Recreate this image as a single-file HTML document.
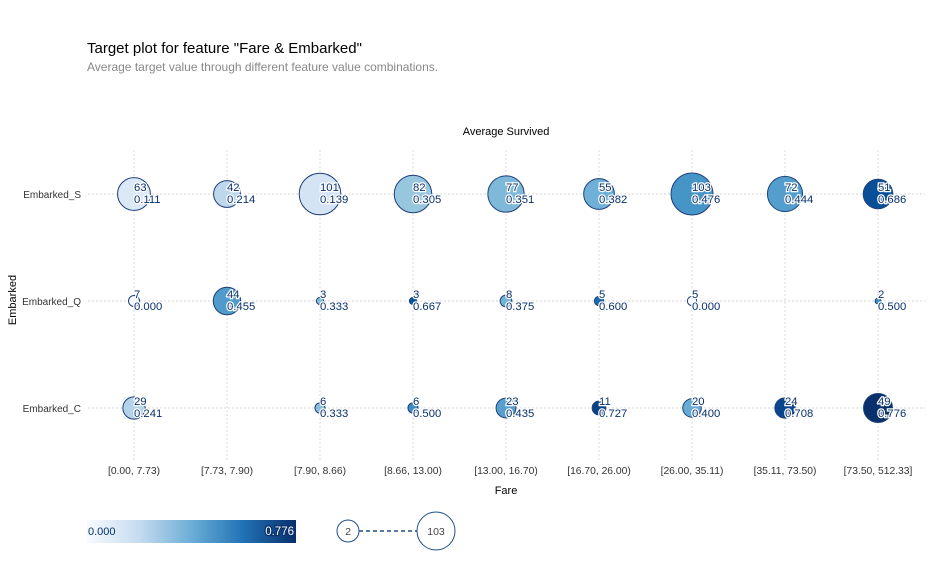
<!DOCTYPE html>
<html><head><meta charset="utf-8"><style>
body{margin:0;background:#fff;font-family:"Liberation Sans",Arial,sans-serif}
svg text{font-family:"Liberation Sans",Arial,sans-serif}
</style></head><body>
<svg id="c" width="939" height="565" xmlns="http://www.w3.org/2000/svg">
<defs><linearGradient id="g" x1="0" x2="1" y1="0" y2="0">
<stop offset="0" stop-color="#f7fbff"/><stop offset="0.25" stop-color="#c6dbef"/><stop offset="0.5" stop-color="#6baed6"/><stop offset="0.75" stop-color="#2171b5"/><stop offset="1" stop-color="#08306b"/></linearGradient></defs>
<text x="87" y="53" font-size="15" fill="#000">Target plot for feature "Fare &amp; Embarked"</text>
<text x="87" y="71" font-size="12" fill="#888">Average target value through different feature value combinations.</text>
<text x="506" y="135" font-size="11" text-anchor="middle" fill="#000">Average Survived</text>
<g id="grid"></g><g id="marks"></g><g id="axes"></g>
<text x="506" y="494" font-size="11" text-anchor="middle">Fare</text>
<text transform="translate(16,300) rotate(-90)" font-size="11" text-anchor="middle">Embarked</text>
<rect x="87" y="520" width="209" height="23" fill="url(#g)"/>
<text x="88" y="535" font-size="11" fill="#08306b">0.000</text>
<text x="294" y="535" font-size="11.5" text-anchor="end" fill="#fff" stroke="#08306b" stroke-width="2.5" paint-order="stroke">0.776</text>
<line x1="359" y1="531" x2="417" y2="531" stroke="#1f4e8c" stroke-width="1.5" stroke-dasharray="4,3"/>
<circle cx="348" cy="531" r="11" fill="#fff" stroke="#1f4e8c"/>
<text x="348" y="535" font-size="10.5" text-anchor="middle" fill="#444">2</text>
<circle cx="436" cy="531" r="19" fill="#fff" stroke="#1f4e8c"/>
<text x="436" y="535" font-size="10.5" text-anchor="middle" fill="#444">103</text>
</svg>
<script>
const fareBins=["[0.00, 7.73)","[7.73, 7.90)","[7.90, 8.66)","[8.66, 13.00)","[13.00, 16.70)","[16.70, 26.00)","[26.00, 35.11)","[35.11, 73.50)","[73.50, 512.33]"];
const embarked=["Embarked_S","Embarked_Q","Embarked_C"];
const countS=[63,42,101,82,77,55,103,72,51];
const valueS=[0.111,0.214,0.139,0.305,0.351,0.382,0.476,0.444,0.686];
const countQ=[7,44,3,3,8,5,5,null,2];
const valueQ=[0.000,0.455,0.333,0.667,0.375,0.600,0.000,null,0.500];
const countC=[29,null,6,6,23,11,20,24,49];
const valueC=[0.241,null,0.333,0.500,0.435,0.727,0.400,0.708,0.776];
const counts=[countS,countQ,countC], values=[valueS,valueQ,valueC];
const NS="http://www.w3.org/2000/svg";
const xS=i=>134+i*93, yS=j=>194+j*107;
const rS=n=>2.07*Math.sqrt(n);
const vmax=0.776;
const stops=[[247,251,255],[222,235,247],[198,219,239],[158,202,225],[107,174,214],[66,146,198],[33,113,181],[8,81,156],[8,48,107]];
function col(v){let t=Math.max(0,Math.min(1,v/vmax))*(stops.length-1);let i=Math.min(Math.floor(t),stops.length-2),f=t-i;
return "rgb("+stops[i].map((a,k)=>Math.round(a+(stops[i+1][k]-a)*f)).join(",")+")";}
function mk(tag,at,parent){const e=document.createElementNS(NS,tag);for(const k in at)e.setAttribute(k,at[k]);parent.appendChild(e);return e;}
const grid=document.getElementById('grid'),marks=document.getElementById('marks'),axes=document.getElementById('axes');
fareBins.forEach((b,i)=>{
 const l=mk('line',{x1:xS(i),x2:xS(i),y1:150,y2:460,stroke:'#c8c8c8','stroke-width':0.7,'stroke-dasharray':'2,2'},grid);
 
 
 const t=mk('text',{x:xS(i),y:474,'font-size':10.3,'text-anchor':'middle',fill:'#333'},axes);t.textContent=b;
 
 
});
embarked.forEach((e,j)=>{
 const l=mk('line',{x1:88,x2:925,y1:yS(j),y2:yS(j),stroke:'#c8c8c8','stroke-width':0.7,'stroke-dasharray':'2,2'},grid);
 
 
 const t=mk('text',{x:81,y:yS(j)+4,'font-size':10,'text-anchor':'end',fill:'#333'},axes);t.textContent=e;
 
 
});
counts.forEach((row,j)=>row.forEach((n,i)=>{
 if(n==null)return;
 const v=values[j][i];
 const c=mk('circle',{cx:xS(i),cy:yS(j),r:rS(n),fill:col(v),stroke:'#1f3f7a','stroke-width':1},marks);
 
 
 const t1=mk('text',{x:xS(i),y:yS(j)-3,'font-size':11.3,fill:'#08306b',stroke:'#fff','stroke-width':2.5,'paint-order':'stroke'},marks);t1.textContent=n;
 
 
 const t2=mk('text',{x:xS(i),y:yS(j)+9,'font-size':11.3,fill:'#08306b',stroke:'#fff','stroke-width':2.5,'paint-order':'stroke'},marks);t2.textContent=v.toFixed(3);
 
 
}));
</script>
</body></html>
